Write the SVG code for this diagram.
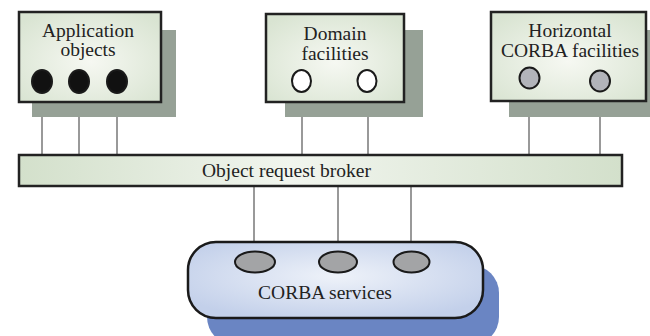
<svg xmlns="http://www.w3.org/2000/svg" width="650" height="336" viewBox="0 0 650 336">
  <defs>
    <radialGradient id="boxFill" cx="50%" cy="55%" r="65%">
      <stop offset="0" stop-color="#f6f8f2"/>
      <stop offset="1" stop-color="#d9e4d2"/>
    </radialGradient>
    <linearGradient id="orbFill" x1="0" y1="0" x2="1" y2="0">
      <stop offset="0" stop-color="#d3e0cb"/>
      <stop offset="0.45" stop-color="#f1f5ee"/>
      <stop offset="1" stop-color="#d3e0cb"/>
    </linearGradient>
    <radialGradient id="svcFill" cx="50%" cy="45%" r="60%">
      <stop offset="0" stop-color="#eef2f9"/>
      <stop offset="1" stop-color="#c3d0ea"/>
    </radialGradient>
  </defs>
  <style>
    .shadow { fill: #96a196; }
    .box { fill: url(#boxFill); stroke: #222; stroke-width: 2.5; }
    .label { font-family: "Liberation Serif", "Times New Roman", serif; font-size: 19.5px; fill: #222; text-anchor: middle; }
    .link { stroke: #555; stroke-width: 1.2; fill: none; }
    .port { stroke: #1a1a1a; stroke-width: 2; }
    .black { fill: #111; }
    .white { fill: #fff; }
    .grey { fill: #b2b4ba; }
    .svc { fill: #a3a4a6; stroke: #1a1a1a; stroke-width: 2; }
  </style>

  <!-- connectors between ports and the broker -->
  <g id="connectors">
    <line class="link" x1="42" y1="90" x2="42" y2="155"/>
    <line class="link" x1="79" y1="90" x2="79" y2="155"/>
    <line class="link" x1="117" y1="90" x2="117" y2="155"/>
    <line class="link" x1="302" y1="92" x2="302" y2="155"/>
    <line class="link" x1="368" y1="92" x2="368" y2="155"/>
    <line class="link" x1="529" y1="88" x2="529" y2="155"/>
    <line class="link" x1="600" y1="92" x2="600" y2="155"/>
    <line class="link" x1="254" y1="186" x2="254" y2="252"/>
    <line class="link" x1="338" y1="186" x2="338" y2="252"/>
    <line class="link" x1="411" y1="186" x2="411" y2="252"/>
  </g>

  <g id="application-objects">
    <rect class="shadow" x="32" y="30" width="144" height="87"/>
    <rect class="box" x="19" y="12" width="142" height="90"/>
    <text class="label" x="88" y="37">Application</text>
    <text class="label" x="88" y="56">objects</text>
    <ellipse class="port black" cx="42" cy="81.5" rx="10" ry="11.5"/>
    <ellipse class="port black" cx="79" cy="81.5" rx="10" ry="11.5"/>
    <ellipse class="port black" cx="117" cy="81.5" rx="10" ry="11.5"/>
  </g>

  <g id="domain-facilities">
    <rect class="shadow" x="285" y="30" width="138" height="87"/>
    <rect class="box" x="266" y="14" width="138" height="88"/>
    <text class="label" x="335" y="40">Domain</text>
    <text class="label" x="335" y="60">facilities</text>
    <ellipse class="port white" cx="301.5" cy="81" rx="9.5" ry="11"/>
    <ellipse class="port white" cx="367" cy="81" rx="9.5" ry="11"/>
  </g>

  <g id="horizontal-facilities">
    <rect class="shadow" x="509" y="30" width="141" height="87"/>
    <rect class="box" x="491" y="12" width="155" height="89"/>
    <text class="label" x="570" y="37">Horizontal</text>
    <text class="label" x="570" y="57">CORBA facilities</text>
    <ellipse class="port grey" cx="529.5" cy="78" rx="10" ry="10.5"/>
    <ellipse class="port grey" cx="600" cy="81" rx="10" ry="10.5"/>
  </g>

  <g id="object-request-broker">
    <rect x="19" y="155" width="603" height="31" fill="url(#orbFill)" stroke="#222" stroke-width="2.5"/>
    <text class="label" x="286.5" y="177">Object request broker</text>
  </g>

  <g id="corba-services">
    <rect x="207" y="265" width="292" height="80" rx="28" fill="#6a85c3"/>
    <rect x="188" y="242" width="295" height="76" rx="28" fill="url(#svcFill)" stroke="#1a1a1a" stroke-width="2.5"/>
    <ellipse class="svc" cx="255" cy="262" rx="20" ry="10.5"/>
    <ellipse class="svc" cx="338" cy="262" rx="19" ry="10.5"/>
    <ellipse class="svc" cx="411.5" cy="262" rx="18" ry="10.5"/>
    <text class="label" x="325" y="299">CORBA services</text>
  </g>
</svg>
